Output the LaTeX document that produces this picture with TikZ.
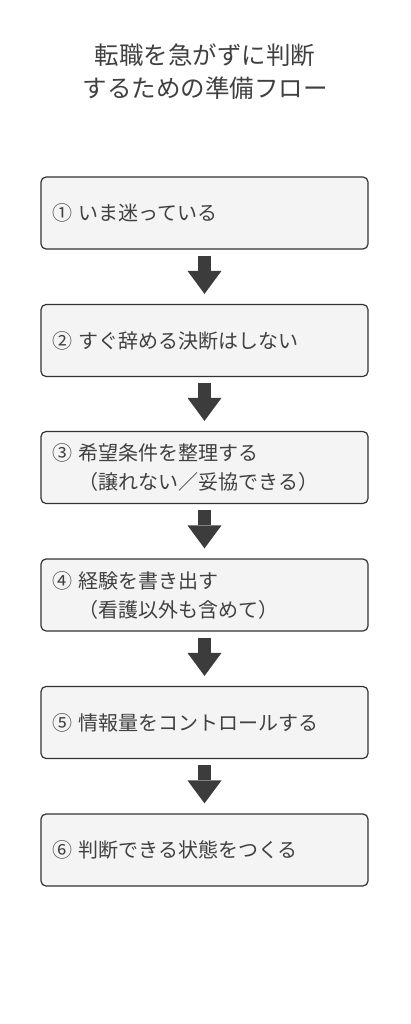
\documentclass[tikz,border=0pt]{standalone}
\usepackage{fontspec}
\setmainfont{Noto Sans CJK JP}
\usetikzlibrary{arrows.meta}
\definecolor{boxfill}{HTML}{F4F4F4}
\definecolor{boxline}{HTML}{333333}
\definecolor{textgray}{HTML}{404040}
\definecolor{arrowgray}{HTML}{3C3C3C}
\begin{document}
\begin{tikzpicture}[x=1pt, y=1pt,
  flowbox/.style={draw=boxline, fill=boxfill, line width=1.2pt, rounded corners=5pt,
    minimum width=327pt, minimum height=72pt, text width=305pt, inner xsep=11pt,
    align=left, text=textgray, font=\fontsize{20}{29}\selectfont},
  flowarrow/.style={draw=arrowgray, line width=13pt,
    -{Triangle[width=34pt, length=23pt, line width=0pt]}, shorten <=6pt, shorten >=10pt}]
\useasboundingbox (0,0) rectangle (410,-1024);
\node[align=center, text=textgray, font=\fontsize{24.5}{33}\selectfont] (title) at (205,-71.5) {転職を急がずに判断\\するための準備フロー};

\node[flowbox] (s1) at (204.5,-213) {① いま迷っている};
\node[flowbox] (s2) at (204.5,-340.5) {② すぐ辞める決断はしない};
\node[flowbox] (s3) at (204.5,-467.5) {③ 希望条件を整理する\\\phantom{③ }（譲れない／妥協できる）};
\node[flowbox] (s4) at (204.5,-595) {④ 経験を書き出す\\\phantom{④ }（看護以外も含めて）};
\node[flowbox] (s5) at (204.5,-722.5) {⑤ 情報量をコントロールする};
\node[flowbox] (s6) at (204.5,-850) {⑥ 判断できる状態をつくる};

\draw[flowarrow] (s1.south) -- (s2.north);
\draw[flowarrow] (s2.south) -- (s3.north);
\draw[flowarrow] (s3.south) -- (s4.north);
\draw[flowarrow] (s4.south) -- (s5.north);
\draw[flowarrow] (s5.south) -- (s6.north);
\end{tikzpicture}
\end{document}
